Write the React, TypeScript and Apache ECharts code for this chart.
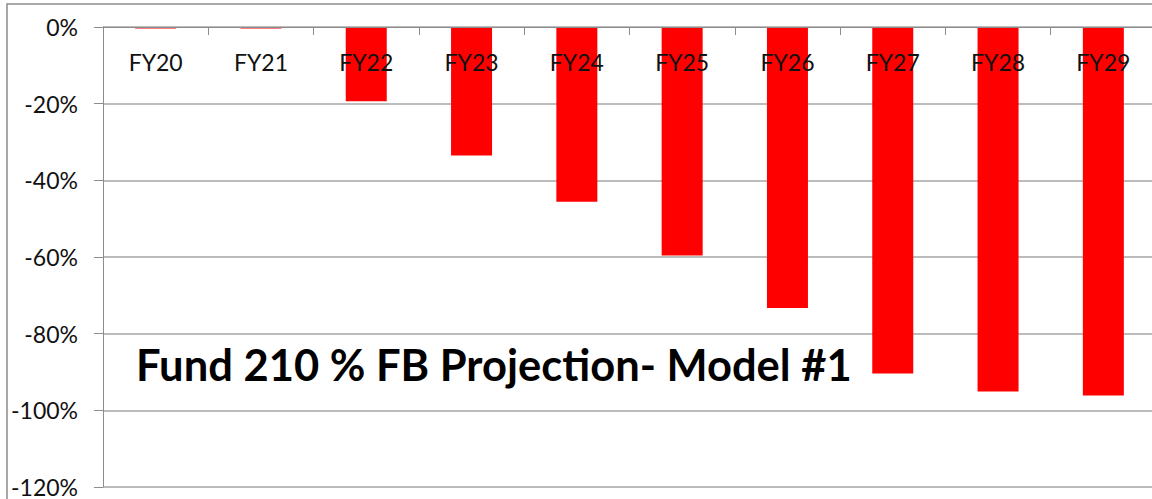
import React, { useEffect, useRef } from "react";
import * as echarts from "echarts";

const categories = ["FY20", "FY21", "FY22", "FY23", "FY24", "FY25", "FY26", "FY27", "FY28", "FY29"];
const values = [-0.4, -0.4, -19.4, -33.5, -45.6, -59.6, -73.3, -90.4, -95.1, -96.1];
const titleText = "Fund 210 % FB Projection- Model #1";

export default function App() {
  const ref = useRef<HTMLDivElement>(null);
  useEffect(() => {
    if (!ref.current) return;
    const chart = echarts.init(ref.current, undefined, { renderer: "svg" });
    chart.setOption({
      animation: false,
      backgroundColor: "#ffffff",
      grid: {
        left: 103,
        top: 27,
        width: 1053,
        height: 460,
        containLabel: false,
        outerBoundsMode: "none",
      },
      xAxis: {
        type: "category",
        data: categories,
        position: "top",
        z: 5,
        axisLine: { onZero: false, lineStyle: { color: "#8c8c8c", width: 1 } },
        axisTick: { show: true, inside: true, length: 8, lineStyle: { color: "#8c8c8c" } },
        axisLabel: { inside: true, color: "#111", fontFamily: "Lato", fontSize: 23, margin: 23 },
        splitLine: { show: false },
      },
      yAxis: {
        type: "value",
        min: -120,
        max: 0,
        interval: 20,
        axisLine: { show: true, lineStyle: { color: "#8c8c8c", width: 1 } },
        axisTick: { show: true, length: 9, lineStyle: { color: "#8c8c8c" } },
        axisLabel: {
          color: "#111",
          fontFamily: "Lato",
          fontSize: 23,
          margin: 25,
          formatter: (v: number) => `${v}%`,
        },
        splitLine: { show: true, lineStyle: { color: "#a6a6a6", width: 1.5 } },
      },
      series: [
        {
          type: "bar",
          data: values,
          barWidth: 41,
          itemStyle: { color: "#ff0000" },
          z: 2,
        },
      ],
      graphic: [
        {
          type: "rect",
          shape: { x: 7, y: 4, width: 1300, height: 700 },
          style: { fill: "none", stroke: "#8c8c8c", lineWidth: 1.5 },
          silent: true,
          z: 10,
        },
        {
          type: "text",
          x: 136,
          y: 386,
          z: 10,
          style: {
            text: titleText,
            fill: "#000",
            font: "bold 43.5px Lato",
            textVerticalAlign: "bottom",
          },
        },
      ],
    });
    return () => chart.dispose();
  }, []);
  return <div ref={ref} style={{ position: "fixed", left: 0, top: 0, width: 1152, height: 499 }} />;
}
